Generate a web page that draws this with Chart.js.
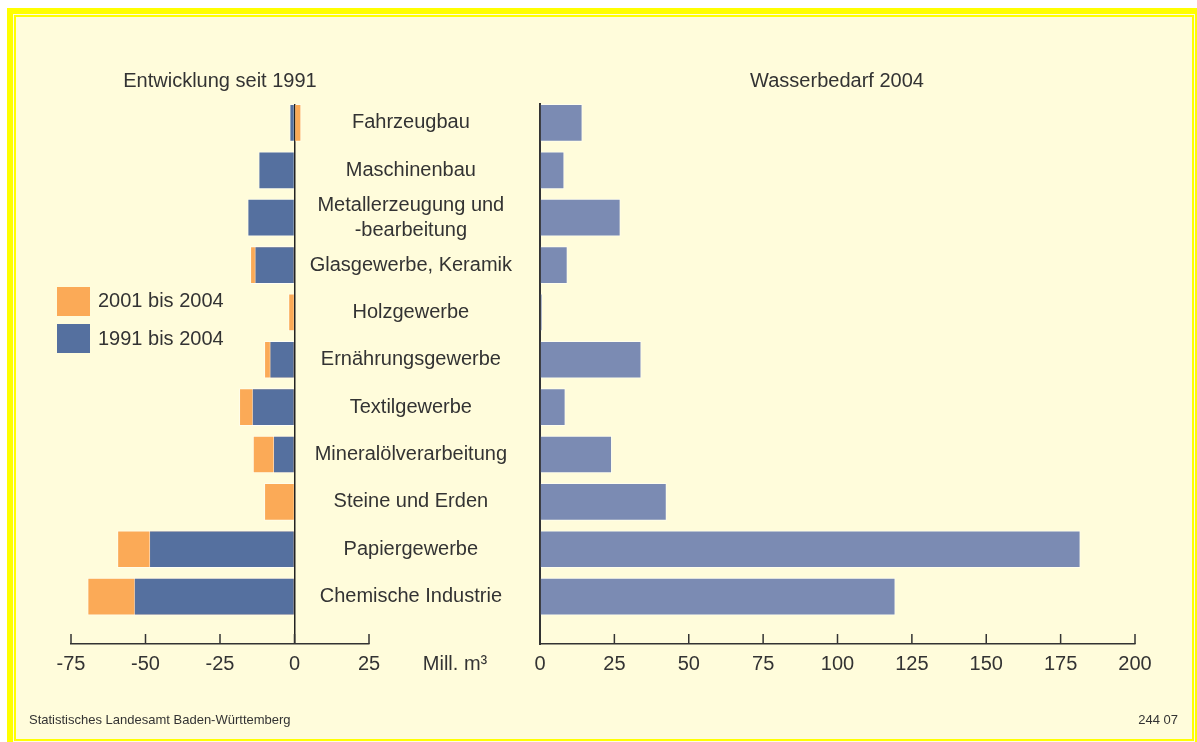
<!DOCTYPE html>
<html>
<head>
<meta charset="utf-8">
<script src="https://cdn.jsdelivr.net/npm/chart.js@4.4.0/dist/chart.umd.min.js"></script>
<style>
body { margin:0; background:#fff; width:1197px; height:742px; overflow:hidden; position:relative; font-family:"Liberation Sans", Arial, sans-serif; color:#333; }
#frame { position:absolute; left:7px; top:8px; right:0; bottom:0; background:#ffff00; }
#inner { position:absolute; left:6px; top:6px; right:2px; bottom:0; border:1px solid #fdfbe4; }
#paper { position:absolute; left:0; top:0; right:0; bottom:0; border:2px solid #ffff00; background:#fffcdb; }
canvas { position:absolute; left:0; top:0; }
.txt { position:absolute; white-space:nowrap; font-size:20px; line-height:20px; }
.sw { position:absolute; width:33px; height:29px; }
</style>
</head>
<body>
<div id="frame"><div id="inner"><div id="paper"></div></div></div>
<canvas id="leftChart" width="1197" height="742"></canvas>
<canvas id="rightChart" width="1197" height="742"></canvas>

<div class="txt" style="left:120px;top:70px;width:200px;text-align:center">Entwicklung seit 1991</div>
<div class="txt" style="left:737px;top:70px;width:200px;text-align:center">Wasserbedarf 2004</div>
<div class="sw" style="left:57px;top:287px;background:#fbaa57"></div>
<div class="sw" style="left:57px;top:324px;background:#55709f"></div>
<div class="txt" style="left:98px;top:290px">2001 bis 2004</div>
<div class="txt" style="left:98px;top:328px">1991 bis 2004</div>
<div class="txt" style="left:405px;top:653px;width:100px;text-align:center">Mill. m³</div>
<div class="txt" style="left:29px;top:712px;font-size:13px;line-height:16px">Statistisches Landesamt Baden-Württemberg</div>
<div class="txt" style="right:19px;top:712px;font-size:13px;line-height:16px">244 07</div>

<script>
// --- Data ---
const categories = [
    'Fahrzeugbau', 'Maschinenbau', ['Metallerzeugung und', '-bearbeitung'],
    'Glasgewerbe, Keramik', 'Holzgewerbe', 'Ernährungsgewerbe', 'Textilgewerbe',
    'Mineralölverarbeitung', 'Steine und Erden', 'Papiergewerbe', 'Chemische Industrie'
];
const change2001to2004 = [2.2, 0, 0, -14.8, -2, -10.1, -18.5, -13.9, -10.1, -59.4, -69.4];
const change1991to2004 = [-1.6, -12, -15.7, -13.3, 0, -8.3, -14.2, -7.1, 0, -48.7, -53.8];
const demand2004 = [14.2, 8.1, 27, 9.2, 0.6, 34, 8.5, 24.1, 42.5, 181.6, 119.4];
const leftTicks = [-75, -50, -25, 0, 25];
const rightTicks = [0, 25, 50, 75, 100, 125, 150, 175, 200];

const TEXT = '#333';
const font20 = { family: '"Liberation Sans", Arial, sans-serif', size: 20 };

const toPoints = vals => vals.map((v, i) => ({ x: v, y: i }));

// tick marks pointing up into the plot
const upTicks = {
    id: 'upTicks',
    afterDraw(chart) {
        const sx = chart.scales.x, ctx = chart.ctx;
        ctx.save();
        ctx.strokeStyle = TEXT;
        ctx.lineWidth = 1.5;
        sx.ticks.forEach(t => {
            const px = sx.getPixelForValue(t.value);
            ctx.beginPath();
            ctx.moveTo(px, sx.top);
            ctx.lineTo(px, sx.top - 10);
            ctx.stroke();
        });
        ctx.restore();
    }
};

// shared y mapping (rows by index)
function rowScale(show) {
    const s = {
        type: 'linear', min: -0.4, max: 11, reverse: true, offset: false, display: show,
        afterBuildTicks: sc => { sc.ticks = categories.map((c, i) => ({ value: i })); },
        grid: { display: false },
        border: { display: true, color: TEXT, width: 2 },
        ticks: {
            autoSkip: false, crossAlign: 'center', padding: 20, color: TEXT,
            font: { ...font20, lineHeight: 1.25 },
            callback: v => categories[v]
        }
    };
    if (show) s.afterFit = sc => { sc.width = 244; };
    return s;
}

function valueScale(min, max, list, zeroLine) {
    return {
        type: 'linear', min, max, z: 1,
        afterBuildTicks: s => { s.ticks = list.map(v => ({ value: v })); },
        grid: {
            drawOnChartArea: zeroLine, drawTicks: false, lineWidth: 1.5,
            color: c => (zeroLine && c.tick && c.tick.value === 0) ? '#222' : 'rgba(0,0,0,0)'
        },
        border: { display: true, color: TEXT, width: 1.5 },
        ticks: { color: TEXT, font: font20, padding: 8, autoSkip: false, maxRotation: 0 },
        afterFit: s => { s.height = 40; }
    };
}

const common = {
    responsive: false,
    animation: false,
    indexAxis: 'y',
    plugins: { legend: { display: false }, tooltip: { enabled: false } }
};

new Chart(document.getElementById('leftChart'), {
    type: 'bar',
    data: {
        datasets: [{
            label: '2001 bis 2004',
            data: toPoints(change2001to2004),
            backgroundColor: '#fbaa57',
            borderColor: 'rgba(255,255,255,0.45)', borderWidth: 1,
            barThickness: 37, grouped: false, order: 2
        }, {
            label: '1991 bis 2004',
            data: toPoints(change1991to2004),
            backgroundColor: '#55709f',
            borderColor: 'rgba(255,255,255,0.45)', borderWidth: 1,
            barThickness: 37, grouped: false, order: 1
        }]
    },
    options: {
        ...common,
        layout: { padding: { left: 71, right: 1197 - 369, top: 104, bottom: 58 } },
        scales: { x: valueScale(-75, 25, leftTicks, true), y: rowScale(false) }
    },
    plugins: [upTicks]
});

new Chart(document.getElementById('rightChart'), {
    type: 'bar',
    data: {
        datasets: [{
            label: 'Wasserbedarf 2004',
            data: toPoints(demand2004),
            backgroundColor: '#7b8bb3',
            borderColor: 'rgba(255,255,255,0.5)', borderWidth: 1,
            barThickness: 37
        }]
    },
    options: {
        ...common,
        layout: { padding: { left: 296, right: 1197 - 1135, top: 104, bottom: 58 } },
        scales: { x: valueScale(0, 200, rightTicks, false), y: rowScale(true) }
    },
    plugins: [upTicks]
});
</script>
</body>
</html>
